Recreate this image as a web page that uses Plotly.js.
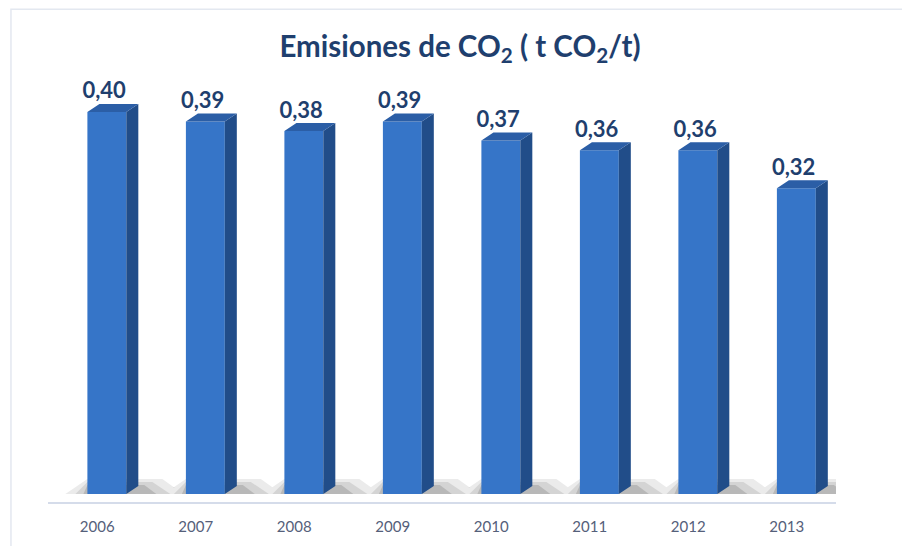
<!DOCTYPE html>
<html>
<head>
<meta charset="utf-8">
<script src="https://cdn.plot.ly/plotly-3.0.1.min.js"></script>
<style>html,body{margin:0;padding:0;background:#fff;}#chart{width:902px;height:546px;}</style>
</head>
<body>
<div id="chart"></div>
<script>
const years = ["2006","2007","2008","2009","2010","2011","2012","2013"];
const values = [0.40, 0.39, 0.38, 0.39, 0.37, 0.36, 0.36, 0.32];
const labels = ["0,40","0,39","0,38","0,39","0,37","0,36","0,36","0,32"];

(function () {
// 3D geometry (axis units)
const fl = -0.10, fr = 0.295, dx = 0.122, dy = 0.0084;
const px = 1/98.5, py = 1/955;
const idx = years.map((_, i) => i);

function poly(fn) {
  const X = [], Y = [];
  idx.forEach((i) => {
    const pts = fn(i, values[i]);
    pts.forEach(p => { X.push(p[0]); Y.push(p[1]); });
    X.push(pts[0][0], null); Y.push(pts[0][1], null);
  });
  return {X, Y};
}

const shadowLayers = [
  {a:22, b:45, c:24, h:15, op:0.10},
  {a:12, b:32, c:14, h:12, op:0.13},
  {a:4,  b:18, c:6,  h:9,  op:0.18}
];

const traces = [];
shadowLayers.forEach(s => {
  const p = poly((i) => {
    const L = i + fl, R = i + fr + dx;
    return [[L - s.a*px, 0], [R + s.b*px, 0], [R + s.c*px, s.h*py], [L, s.h*py]];
  });
  traces.push({type:'scatter', x:p.X, y:p.Y, mode:'lines', fill:'toself', fillcolor:'rgba(60,60,60,'+s.op+')', line:{width:0}, hoverinfo:'skip', showlegend:false});
});

const frontFace = poly((i, v) => [[i+fl, 0], [i+fr, 0], [i+fr, v], [i+fl, v]]);
const sideFace = poly((i, v) => [[i+fr, 0], [i+fr, v], [i+fr+dx, v+dy], [i+fr+dx, dy]]);
const topFace = poly((i, v) => [[i+fl, v], [i+fr, v], [i+fr+dx, v+dy], [i+fl+dx, v+dy]]);

traces.push(
  {type:'scatter', x: frontFace.X, y: frontFace.Y, mode:'lines', fill:'toself', fillcolor:'#3675c8', line:{width:0}, hoverinfo:'skip', showlegend:false},
  {type:'scatter', x: sideFace.X, y: sideFace.Y, mode:'lines', fill:'toself', fillcolor:'#214d89', line:{width:0}, hoverinfo:'skip', showlegend:false},
  {type:'scatter', x: topFace.X, y: topFace.Y, mode:'lines', fill:'toself', fillcolor:'#2b5ea6', line:{width:0}, hoverinfo:'skip', showlegend:false},
  {type:'scatter', x: idx.map(i => i + 0.07), y: values.map(v => v + dy), mode:'text', text: labels,
   textposition:'top center', textfont:{family:'Lato, "Open Sans", sans-serif', size:22, color:'#1f3f6e', weight:'bold'},
   hoverinfo:'skip', showlegend:false, cliponaxis:false}
);

const layout = {
  width: 902, height: 546,
  margin: {l:48, r:66, t:60, b:44},
  paper_bgcolor:'#ffffff', plot_bgcolor:'#ffffff',
  title: {text:'<b>Emisiones de CO<sub>2</sub> ( t CO<sub>2</sub>/t)</b>', x:0.51, xanchor:'center', y:0.915, yanchor:'middle',
          font:{family:'Lato, "Open Sans", sans-serif', size:29.5, color:'#1f3f6e'}},
  xaxis: {range:[-0.5, 7.5], tickvals: idx, ticktext: years, showgrid:false, zeroline:false,
          showline:true, linecolor:'#d5dcea', linewidth:2, ticks:'outside', ticklen:10, tickcolor:'rgba(0,0,0,0)',
          tickfont:{family:'Lato, "Open Sans", sans-serif', size:15, color:'#55607a'}, fixedrange:true},
  yaxis: {range:[-0.0084, 0.4544], visible:false, showgrid:false, zeroline:false, fixedrange:true},
  shapes: [{type:'rect', xref:'paper', yref:'paper', x0:-0.047, x1:1.2, y0:-0.3, y1:1.115,
            line:{color:'#e3e8f0', width:1.5}, fillcolor:'rgba(0,0,0,0)', layer:'below'}]
};

Plotly.newPlot('chart', traces, layout, {displayModeBar:false, staticPlot:true});
})();
</script>
</body>
</html>
